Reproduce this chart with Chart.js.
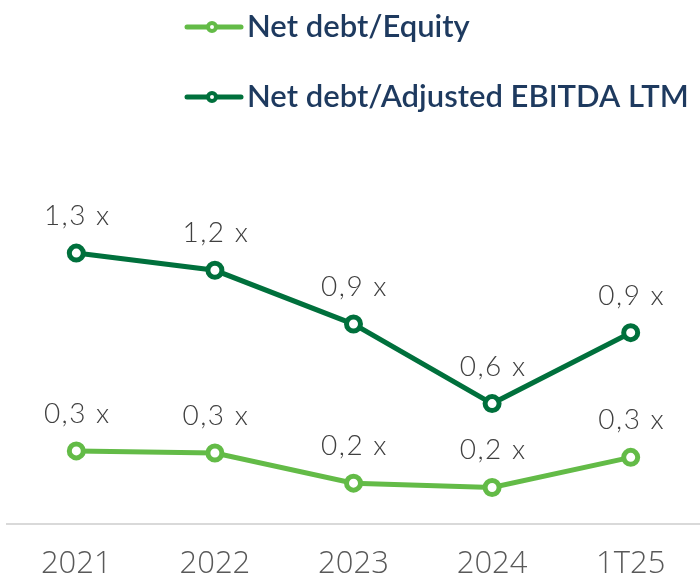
<!DOCTYPE html>
<html>
<head>
<meta charset="utf-8">
<script src="https://cdn.jsdelivr.net/npm/chart.js@4.4.1/dist/chart.umd.min.js"></script>
<style>
  html, body { margin: 0; padding: 0; background: #ffffff; }
  #wrap { width: 700px; height: 579px; }
</style>
</head>
<body>
<div id="wrap"><canvas id="c" width="700" height="579"></canvas></div>
<script>
// ---- data ----
const categories = ['2021', '2022', '2023', '2024', '1T25'];
const netDebtEquity = [0.34, 0.33, 0.19, 0.17, 0.31];
const netDebtAdjEbitda = [1.26, 1.18, 0.93, 0.56, 0.89];
const seriesNames = ['Net debt/Equity', 'Net debt/Adjusted EBITDA LTM'];

// ---- styles ----
const lightGreen = '#63bb47';
const darkGreen = '#00703c';
const legendColor = '#1e3a5f';

function fmt(v) {
  return v.toFixed(1).replace('.', ',') + ' x';
}

const valueLabels = {
  id: 'valueLabels',
  afterDatasetsDraw(chart) {
    const ctx = chart.ctx;
    ctx.save();
    ctx.font = '300 28px Lato, "Open Sans", sans-serif';
    if ('letterSpacing' in ctx) ctx.letterSpacing = '1.5px';
    ctx.fillStyle = '#404040';
    ctx.textAlign = 'center';
    ctx.textBaseline = 'alphabetic';
    chart.data.datasets.forEach((ds, i) => {
      chart.getDatasetMeta(i).data.forEach((pt, j) => {
        ctx.fillText(fmt(ds.data[j]), pt.x + 1, pt.y - 28);
      });
    });
    ctx.restore();
  }
};

const customLegend = {
  id: 'customLegend',
  afterDraw(chart) {
    const ctx = chart.ctx;
    const x0 = 185;
    const rowY = [27, 97];
    ctx.save();
    chart.data.datasets.forEach((ds, i) => {
      const y = rowY[i];
      ctx.strokeStyle = ds.borderColor;
      ctx.lineWidth = 5;
      ctx.lineCap = 'round';
      ctx.beginPath();
      ctx.moveTo(x0 + 2, y);
      ctx.lineTo(x0 + 56, y);
      ctx.stroke();
      ctx.beginPath();
      ctx.arc(x0 + 27, y, 4, 0, Math.PI * 2);
      ctx.fillStyle = '#ffffff';
      ctx.fill();
      ctx.lineWidth = 4;
      ctx.stroke();
      ctx.fillStyle = legendColor;
      ctx.font = '600 31px Lato, "Open Sans", sans-serif';
      ctx.textAlign = 'left';
      ctx.textBaseline = 'middle';
      ctx.fillText(ds.label, x0 + 62, y);
    });
    ctx.restore();
  }
};

new Chart(document.getElementById('c'), {
  type: 'line',
  data: {
    labels: categories,
    datasets: [
      {
        label: seriesNames[0],
        data: netDebtEquity,
        borderColor: lightGreen,
        backgroundColor: lightGreen,
        borderWidth: 5,
        pointRadius: 7,
        pointBorderWidth: 5,
        pointBackgroundColor: '#ffffff',
        pointBorderColor: lightGreen,
        tension: 0,
        clip: false
      },
      {
        label: seriesNames[1],
        data: netDebtAdjEbitda,
        borderColor: darkGreen,
        backgroundColor: darkGreen,
        borderWidth: 5,
        pointRadius: 7,
        pointBorderWidth: 5,
        pointBackgroundColor: '#ffffff',
        pointBorderColor: darkGreen,
        tension: 0,
        clip: false
      }
    ]
  },
  options: {
    responsive: false,
    devicePixelRatio: 1,
    animation: false,
    layout: { autoPadding: false, padding: { top: 137, left: 7, right: 0, bottom: 0 } },
    plugins: {
      legend: { display: false },
      tooltip: { enabled: false }
    },
    scales: {
      x: {
        offset: true,
        grid: { display: false, drawTicks: false },
        border: { display: true, color: '#d9d9d9', width: 2 },
        ticks: {
          color: '#595959',
          padding: 22,
          maxRotation: 0,
          minRotation: 0,
          font: { family: '"Open Sans", sans-serif', size: 31, weight: '300' }
        },
        afterFit(scale) {
          scale.height = 55;
          scale.paddingLeft = 0;
          scale.paddingRight = 0;
        }
      },
      y: {
        display: false,
        min: 0,
        max: 1.8
      }
    }
  },
  plugins: [valueLabels, customLegend]
});
</script>
</body>
</html>
